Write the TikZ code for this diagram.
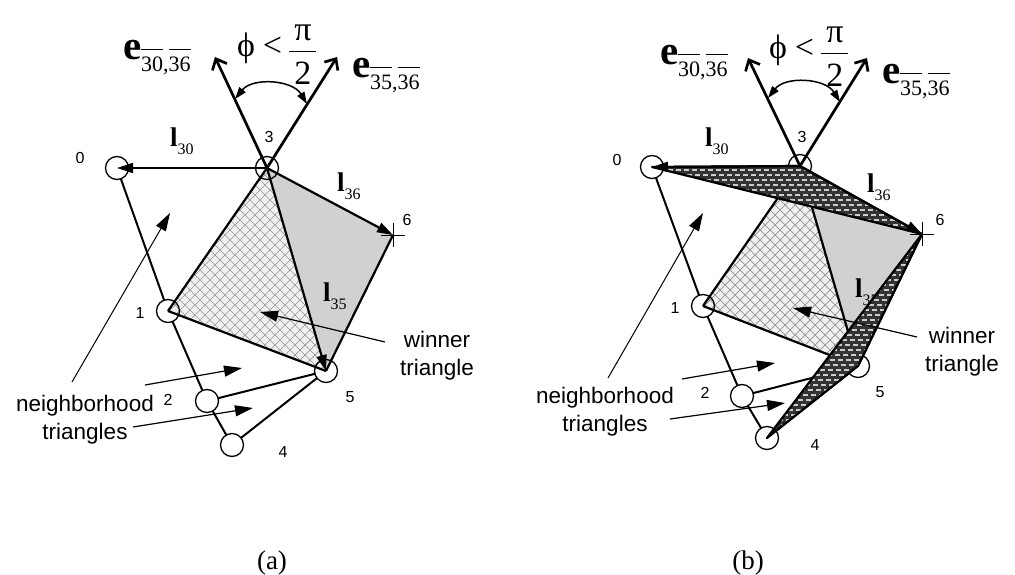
\documentclass[tikz,border=0pt]{standalone}
\usepackage{fontspec}
\setmainfont{Liberation Serif}
\setsansfont{Liberation Sans}
\usetikzlibrary{arrows.meta}
\newcommand\ovl[1]{\vbox{\hrule height 1.3pt\kern 7pt\hbox{#1}}}
\newcommand\evlabel[2]{\textbf{e}\raisebox{-12pt}{\fontsize{22}{22}\selectfont\ovl{#1},\ovl{#2}}}
\newcommand\lvlabel[1]{\textbf{l}\raisebox{-8pt}{\fontsize{16}{16}\selectfont #1}}
\newcommand\phifrac{ϕ\hspace{8pt}<\hspace{6pt}$\displaystyle\frac{\hbox{\kern5pt π\kern5pt}}{\hbox{\rule{0pt}{32pt}2}}$}

% common parts of a panel (coordinates p*, q*, eL, eR, aL, aR given per panel)
\newcommand\panelbase{%
  \fill[stipple] (p3) -- (p6) -- (p5) -- cycle;
  \begin{scope}
    \clip (p1) -- (p3) -- (p5) -- cycle;
    \fill[black!6] (0,0) rectangle (1015,575);
    \foreach \hh in {-300,-290,...,1400} {\draw[hatch] (\hh,100) -- ++(400,400); \draw[hatch] (\hh,100) -- ++(-400,400);}
  \end{scope}
  \node[vert] (n0) at (p0) {};
  \node[vert] (n1) at (p1) {};
  \node[vert] (n2) at (p2) {};
  \node[vert] (n3) at (p3) {};
  \node[vert] (n4) at (p4) {};
  \node[vert] (n5) at (p5) {};
  \coordinate (n6) at (p6);
  \draw[nbedge] (n0) -- (n1);
  \draw[nbedge] (n1) -- (n2);
  \draw[nbedge] (n2) -- (n4);
  \draw[nbedge] (n2) -- (n5);
  \draw[nbedge] (n4) -- (n5);
  \draw[edge] (n1.center) -- (n3.center);
  \draw[edge] (n1.center) -- (n5.center);
  \draw[edge] (n5.center) -- (n6);
  \draw[tri arrow] (n3.center) -- (n5.center);
  \node[num] (t0) at (q0) {0};
  \node[num] (t1) at (q1) {1};
  \node[num] (t2) at (q2) {2};
  \node[num] (t3) at (q3) {3};
  \node[num] (t4) at (q4) {4};
  \node[num] (t5) at (q5) {5};
  \node[num] (t6) at (q6) {6};
  \node[lv, anchor=base west] (l35) at (ql35) {\lvlabel{35}};
}
\newcommand\paneltop{%
  \draw[tri arrow] (n3.center) -- (n0.center);
  \draw[tri arrow] (n3.center) -- (n6);
  \draw[evec] (n3.center) -- (eL);
  \draw[evec] (n3.center) -- (eR);
  \draw[anglearc] (aL) to[bend left=55] (aR);
  \draw[line width=0.9pt] ([shift={(-12,0)}]n6) -- ([shift={(12,0)}]n6);
  \draw[line width=0.9pt] ([shift={(0,-12)}]n6) -- ([shift={(0,12)}]n6);
  \node[lv, anchor=base west] (l30) at (ql30) {\lvlabel{30}};
  \node[lv, anchor=base west] (l36) at (ql36) {\lvlabel{36}};
  \node[ev, anchor=base west] (e1) at (qe1) {\evlabel{30}{36}};
  \node[ev, anchor=base west] (e2) at (qe2) {\evlabel{35}{36}};
  \node[phitext, anchor=base west] (ph) at (qphi) {\phifrac};
}
\newcommand\darktri[3]{%
  \begin{scope}
    \clip (#1) -- (#2) -- (#3) -- cycle;
    \fill[black!80] (0,0) rectangle (1015,575);
    \foreach \hh in {100,105,...,480} {\draw[white!80!black, line width=1.4pt, dash pattern=on 5pt off 3pt, dash phase=\hh pt] (550,\hh) -- (1000,\hh);}
  \end{scope}
  \draw[edge, line join=round] (#1) -- (#2) -- (#3) -- cycle;
}

\begin{document}
\begin{tikzpicture}[x=1pt,y=-1pt,
  every node/.style={inner sep=0pt, outer sep=0pt},
  vert/.style={circle, draw, line width=1.3pt, minimum size=23pt},
  edge/.style={line width=2.2pt},
  nbedge/.style={line width=2pt},
  stipple/.style={fill=black!18},
  hatch/.style={line width=0.7pt, black!42},
  thinarr/.style={line width=1.2pt, -{Triangle[length=18pt,width=11pt]}},
  tri arrow/.style={line width=2.2pt, -{Triangle[length=16pt,width=10pt]}},
  evec/.style={line width=2.7pt, -{Straight Barb[length=9pt,width=16pt]}},
  anglearc/.style={line width=1.5pt, {Triangle[length=12pt,width=8pt]}-{Triangle[length=12pt,width=8pt]}},
  num/.style={font=\sffamily\fontsize{16}{16}\selectfont},
  lbl/.style={font=\sffamily\fontsize{22.5}{28}\selectfont, align=center},
  lv/.style={font=\fontsize{27}{27}\selectfont},
  ev/.style={font=\fontsize{41}{41}\selectfont},
  phitext/.style={font=\fontsize{34}{34}\selectfont},
  captext/.style={font=\fontsize{27}{27}\selectfont}]
\useasboundingbox (0,0) rectangle (1015,575);
\fill[white] (0,0) rectangle (1015,575);

% ---------------- panel (a)
\begin{scope}[name prefix=a-]
  \coordinate (p0) at (117,168);
  \coordinate (p3) at (267,168);
  \coordinate (p6) at (393,235);
  \coordinate (p1) at (168,311);
  \coordinate (p5) at (326,371);
  \coordinate (p2) at (207,401);
  \coordinate (p4) at (232,445);
  \coordinate (eL) at (215,57);
  \coordinate (eR) at (337,57);
  \coordinate (aL) at (235,99);
  \coordinate (aR) at (307,104);
  \coordinate (q0) at (80,158);
  \coordinate (q3) at (269,137);
  \coordinate (q6) at (407,220);
  \coordinate (q1) at (140,313);
  \coordinate (q2) at (168,400);
  \coordinate (q5) at (350,397);
  \coordinate (q4) at (283,452);
  \coordinate (ql30) at (170,147);
  \coordinate (ql36) at (337,192);
  \coordinate (ql35) at (323,301);
  \coordinate (qe1) at (123,60);
  \coordinate (qe2) at (352,78);
  \coordinate (qphi) at (237,57);
  \panelbase
  \paneltop
  \node[lbl] (nb) at (85,420) {neighborhood\\triangles};
  \node[lbl] (wt) at (437,356) {winner\\triangle};
  \coordinate (s1) at (72,382);  \coordinate (h1) at (170,213);
  \coordinate (s2) at (145,385); \coordinate (h2) at (242,368);
  \coordinate (s3) at (133,427); \coordinate (h3) at (253,408);
  \coordinate (s4) at (385,342); \coordinate (h4) at (260,312);
  \draw[line width=1pt, -{Triangle[length=18pt,width=11pt]}] (s1) -- (h1);
  \draw[thinarr] (s2) -- (h2);
  \draw[thinarr] (s3) -- (h3);
  \draw[thinarr] (s4) -- (h4);
  \node[captext] (ca) at (272,563) {(a)};
\end{scope}

% ---------------- panel (b)
\begin{scope}[name prefix=b-]
  \coordinate (p0) at (652,167);
  \coordinate (p3) at (800,166);
  \coordinate (p6) at (922,234);
  \coordinate (p1) at (703,306);
  \coordinate (p5) at (858,366);
  \coordinate (p2) at (742,396);
  \coordinate (p4) at (767,438);
  \coordinate (eL) at (748,58);
  \coordinate (eR) at (867,58);
  \coordinate (aL) at (768,98);
  \coordinate (aR) at (840,102);
  \coordinate (q0) at (617,160);
  \coordinate (q3) at (802,137);
  \coordinate (q6) at (940,220);
  \coordinate (q1) at (675,308);
  \coordinate (q2) at (705,393);
  \coordinate (q5) at (880,392);
  \coordinate (q4) at (815,445);
  \coordinate (ql30) at (705,147);
  \coordinate (ql36) at (867,193);
  \coordinate (ql35) at (855,297);
  \coordinate (qe1) at (660,65);
  \coordinate (qe2) at (882,84);
  \coordinate (qphi) at (769,59);
  \panelbase
  \darktri{p0}{p3}{p6}
  \darktri{p4}{p5}{p6}
  \paneltop
  \node[lbl] (nb) at (605,412) {neighborhood\\triangles};
  \node[lbl] (wt) at (962,352) {winner\\triangle};
  \coordinate (s1) at (608,378); \coordinate (h1) at (703,213);
  \coordinate (s2) at (682,379); \coordinate (h2) at (775,363);
  \coordinate (s3) at (670,419); \coordinate (h3) at (785,403);
  \coordinate (s4) at (917,337); \coordinate (h4) at (793,308);
  \draw[line width=1pt, -{Triangle[length=18pt,width=11pt]}] (s1) -- (h1);
  \draw[thinarr] (s2) -- (h2);
  \draw[thinarr] (s3) -- (h3);
  \draw[thinarr] (s4) -- (h4);
  \node[captext] (cb) at (748,563) {(b)};
\end{scope}
\end{tikzpicture}
\end{document}
